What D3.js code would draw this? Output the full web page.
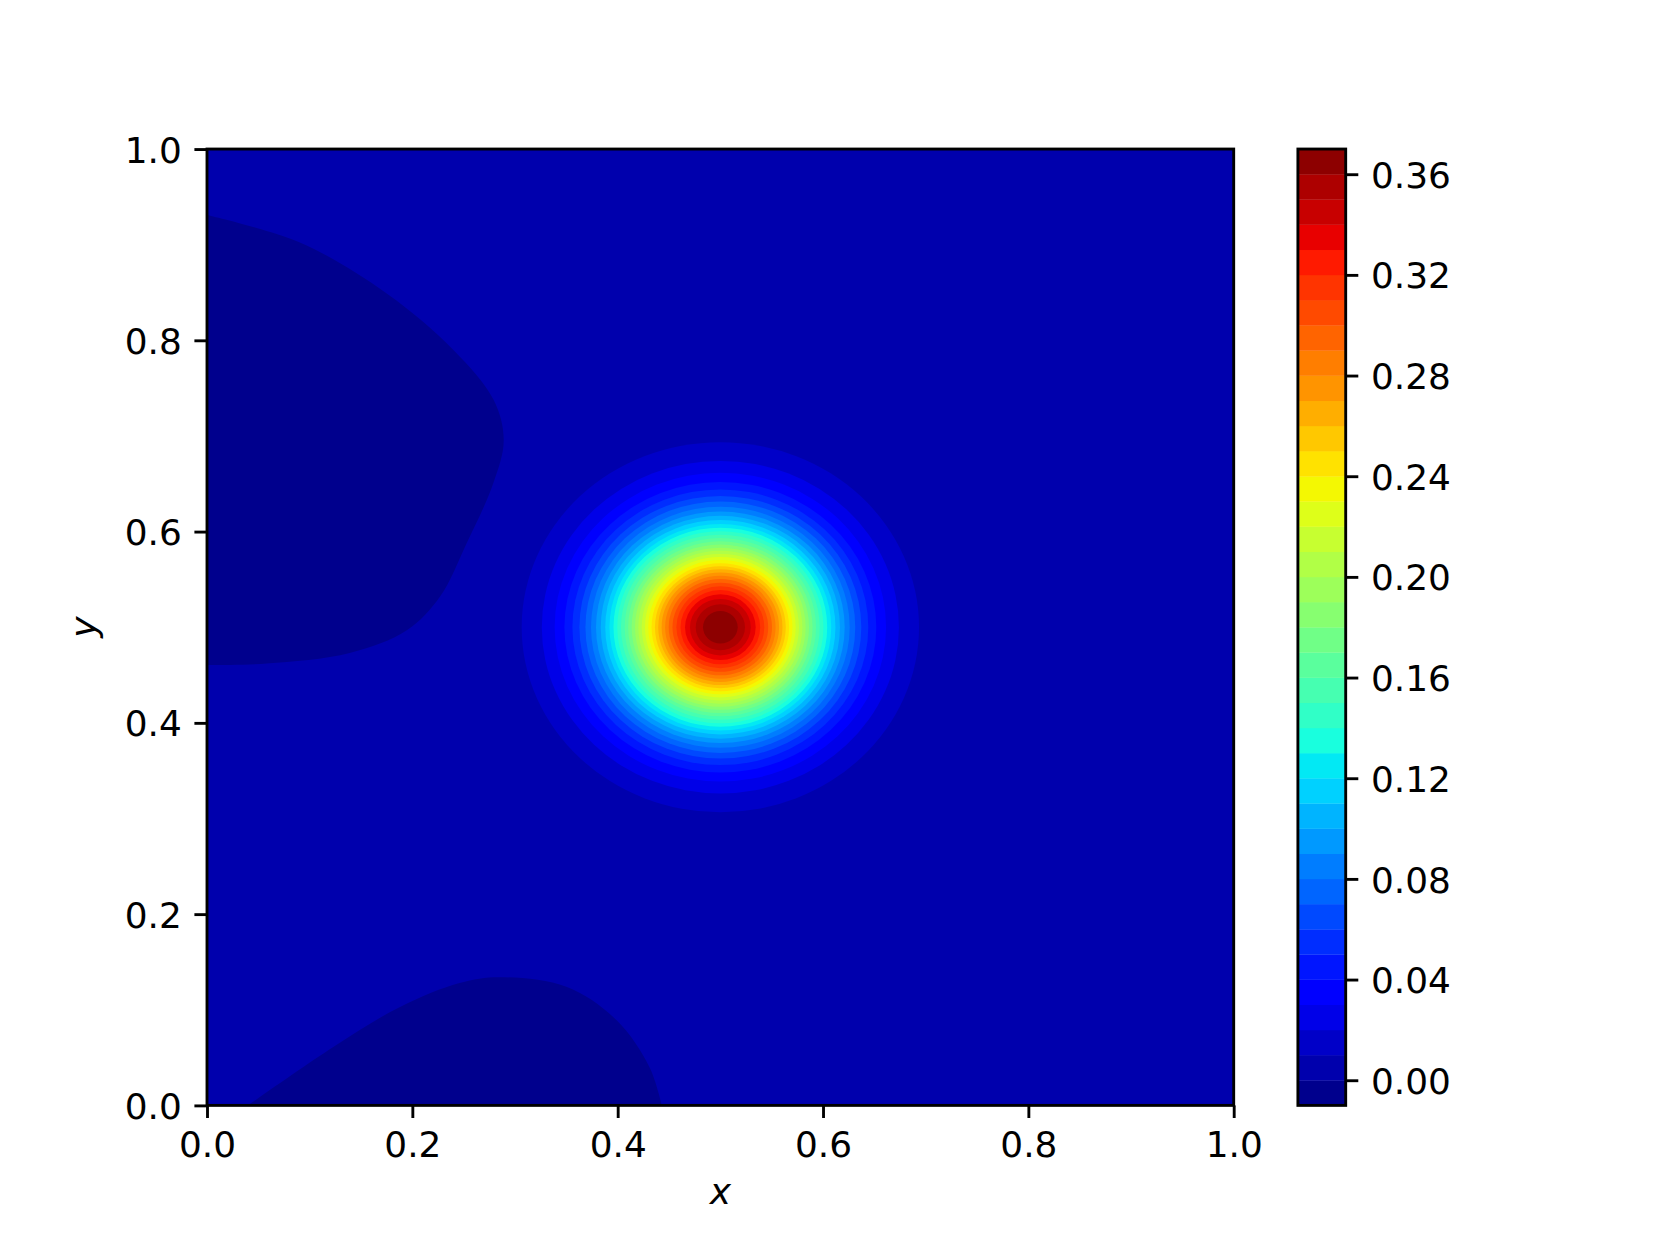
<!DOCTYPE html>
<html>
<head>
<meta charset="utf-8">
<script src="https://cdn.jsdelivr.net/npm/d3@7"></script>
<style>
  body { margin: 0; background: #fff; }
  text { font-family: "DejaVu Sans", sans-serif; fill: #000; }
</style>
</head>
<body>
<svg id="chart" width="1656" height="1242"></svg>
<script>
// contourf levels (bands lie between neighbours)
var levels = [-0.01, 0.00, 0.01, 0.02, 0.03, 0.04, 0.05, 0.06, 0.07, 0.08, 0.09,
  0.10, 0.11, 0.12, 0.13, 0.14, 0.15, 0.16, 0.17, 0.18, 0.19, 0.20, 0.21, 0.22,
  0.23, 0.24, 0.25, 0.26, 0.27, 0.28, 0.29, 0.30, 0.31, 0.32, 0.33, 0.34, 0.35,
  0.36, 0.37];

// the bump at (0.5, 0.5): radius (data units) where each level is crossed
var bumpCenter = [0.5, 0.5];
var ringLevels = [0.01, 0.02, 0.03, 0.04, 0.05, 0.06, 0.07, 0.08, 0.09, 0.10,
  0.11, 0.12, 0.13, 0.14, 0.15, 0.16, 0.17, 0.18, 0.19, 0.20, 0.21, 0.22, 0.23,
  0.24, 0.25, 0.26, 0.27, 0.28, 0.29, 0.30, 0.31, 0.32, 0.33, 0.34, 0.35, 0.36];
var ringRadius = [0.1935, 0.1739, 0.1614, 0.1519, 0.1441, 0.1373, 0.1314, 0.1260,
  0.1211, 0.1165, 0.1121, 0.1080, 0.1041, 0.1004, 0.0968, 0.0932, 0.0898, 0.0864,
  0.0831, 0.0799, 0.0766, 0.0734, 0.0702, 0.0670, 0.0637, 0.0605, 0.0572, 0.0538,
  0.0503, 0.0466, 0.0428, 0.0388, 0.0344, 0.0296, 0.0240, 0.0169];

// zero contour around the two slightly negative areas
var leftLobeX = [0, 0.091, 0.175, 0.240, 0.279, 0.289, 0.279, 0.253, 0.227, 0.195, 0.139, 0.058, 0];
var leftLobeY = [0.931, 0.902, 0.849, 0.790, 0.738, 0.696, 0.651, 0.588, 0.532, 0.497, 0.473, 0.462, 0.4605];
var bottomLobeX = [0.040, 0.123, 0.188, 0.246, 0.285, 0.350, 0.399, 0.431, 0.443];
var bottomLobeY = [0, 0.061, 0.103, 0.128, 0.134, 0.124, 0.089, 0.040, 0];

var axisTicks = [0, 0.2, 0.4, 0.6, 0.8, 1.0];
var cbarTicks = [0, 0.04, 0.08, 0.12, 0.16, 0.20, 0.24, 0.28, 0.32, 0.36];

var fontSize = 35.9, lw = 2.875, tickLen = 12.6, tickPad = 12.6;
var svg = d3.select("#chart");

var x = d3.scaleLinear().domain([0, 1]).range([207, 1233.7]);
var y = d3.scaleLinear().domain([0, 1]).range([1105.4, 149.04]);

// jet colormap, sampled into 256 entries like matplotlib
var jetR = [[0, 0], [0.35, 0], [0.66, 1], [0.89, 1], [1, 0.5]];
var jetG = [[0, 0], [0.125, 0], [0.375, 1], [0.64, 1], [0.91, 0], [1, 0]];
var jetB = [[0, 0.5], [0.11, 1], [0.34, 1], [0.65, 0], [1, 0]];
function seg(s, u) {
  for (var i = 1; i < s.length; i++) {
    if (u <= s[i][0]) {
      var f = (u - s[i-1][0]) / (s[i][0] - s[i-1][0]);
      return s[i-1][1] + f * (s[i][1] - s[i-1][1]);
    }
  }
  return s[s.length-1][1];
}
function jet(t) {
  var idx = Math.max(0, Math.min(255, Math.floor(t * 256)));
  var u = idx / 255;
  return d3.rgb(Math.round(seg(jetR, u) * 255), Math.round(seg(jetG, u) * 255), Math.round(seg(jetB, u) * 255)).toString();
}
var cnorm = d3.scaleLinear().domain([levels[0], levels[levels.length-1]]).range([0, 1]);
function bandColor(i) { return jet(cnorm((levels[i] + levels[i+1]) / 2)); }
function bandIndex(v) { return levels.findIndex(function(l){ return Math.abs(l - v) < 1e-9; }); }

// ---- main plot ----
svg.append("clipPath").attr("id", "plotClip").append("rect")
  .attr("x", x(0)).attr("y", y(1)).attr("width", x(1) - x(0)).attr("height", y(0) - y(1));

var plot = svg.append("g").attr("clip-path", "url(#plotClip)");

plot.append("rect")
  .attr("x", x(0)).attr("y", y(1)).attr("width", x(1) - x(0)).attr("height", y(0) - y(1))
  .attr("fill", bandColor(bandIndex(0)));

var lobeLine = d3.line().x(function(d){ return x(d[0]); }).y(function(d){ return y(d[1]); })
  .curve(d3.curveCatmullRom.alpha(0.5));

var leftPts = leftLobeX.map(function(d, i){ return [d, leftLobeY[i]]; });
plot.append("path")
  .attr("d", lobeLine(leftPts) + "L" + x(-0.05) + "," + y(leftLobeY[leftLobeY.length-1]) +
    "L" + x(-0.05) + "," + y(leftLobeY[0]) + "Z")
  .attr("fill", bandColor(bandIndex(-0.01)));

var bottomPts = bottomLobeX.map(function(d, i){ return [d, bottomLobeY[i]]; });
plot.append("path")
  .attr("d", lobeLine(bottomPts) + "L" + x(bottomLobeX[bottomLobeX.length-1]) + "," + y(-0.05) +
    "L" + x(bottomLobeX[0]) + "," + y(-0.05) + "Z")
  .attr("fill", bandColor(bandIndex(-0.01)));

plot.selectAll("ellipse.ring")
  .data(ringLevels)
  .enter().append("ellipse")
  .attr("class", "ring")
  .attr("cx", x(bumpCenter[0]))
  .attr("cy", y(bumpCenter[1]))
  .attr("rx", function(d, i){ return x(ringRadius[i]) - x(0); })
  .attr("ry", function(d, i){ return y(0) - y(ringRadius[i]); })
  .attr("fill", function(d){ return bandColor(bandIndex(d)); });

// frame
svg.append("rect")
  .attr("x", x(0)).attr("y", y(1)).attr("width", x(1) - x(0)).attr("height", y(0) - y(1))
  .attr("fill", "none").attr("stroke", "#000").attr("stroke-width", lw);

function styleAxis(g) {
  g.select(".domain").remove();
  g.selectAll(".tick line").attr("stroke", "#000").attr("stroke-width", lw);
  g.selectAll(".tick text").attr("font-size", fontSize + "px").attr("fill", "#000")
    .attr("font-family", "DejaVu Sans");
}

var xAxis = svg.append("g").attr("transform", "translate(0," + y(0) + ")")
  .call(d3.axisBottom(x).tickValues(axisTicks).tickSize(tickLen).tickPadding(tickPad).tickFormat(d3.format(".1f")));
styleAxis(xAxis);
xAxis.selectAll(".tick text").attr("dy", null).attr("y", tickLen + tickPad + 26.2);

var yAxis = svg.append("g").attr("transform", "translate(" + x(0) + ",0)")
  .call(d3.axisLeft(y).tickValues(axisTicks).tickSize(tickLen).tickPadding(tickPad).tickFormat(d3.format(".1f")));
styleAxis(yAxis);
yAxis.selectAll(".tick text").attr("dy", "13.1px");

svg.append("text")
  .attr("x", (x(0) + x(1)) / 2).attr("y", 1204)
  .attr("text-anchor", "middle").attr("font-style", "italic").attr("font-size", fontSize + "px")
  .text("x");

svg.append("text")
  .attr("transform", "translate(96.3," + ((y(0) + y(1)) / 2) + ") rotate(-90)")
  .attr("text-anchor", "middle").attr("font-style", "italic").attr("font-size", fontSize + "px")
  .text("y");

// ---- colorbar ----
var cbX = 1297.9, cbW = 47.8;
var cy = d3.scaleLinear().domain([levels[0], levels[levels.length-1]]).range([y(0), y(1)]);

svg.append("g").selectAll("rect")
  .data(levels.slice(0, -1))
  .enter().append("rect")
  .attr("x", cbX)
  .attr("width", cbW)
  .attr("y", function(d, i){ return cy(levels[i+1]); })
  .attr("height", function(d, i){ return cy(levels[i]) - cy(levels[i+1]) + 0.3; })
  .attr("fill", function(d, i){ return bandColor(i); });

svg.append("rect")
  .attr("x", cbX).attr("y", cy(levels[levels.length-1])).attr("width", cbW)
  .attr("height", cy(levels[0]) - cy(levels[levels.length-1]))
  .attr("fill", "none").attr("stroke", "#000").attr("stroke-width", lw);

var cAxis = svg.append("g").attr("transform", "translate(" + (cbX + cbW) + ",0)")
  .call(d3.axisRight(cy).tickValues(cbarTicks).tickSize(tickLen).tickPadding(tickPad).tickFormat(d3.format(".2f")));
styleAxis(cAxis);
cAxis.selectAll(".tick text").attr("dy", "13.1px");
</script>
</body>
</html>
